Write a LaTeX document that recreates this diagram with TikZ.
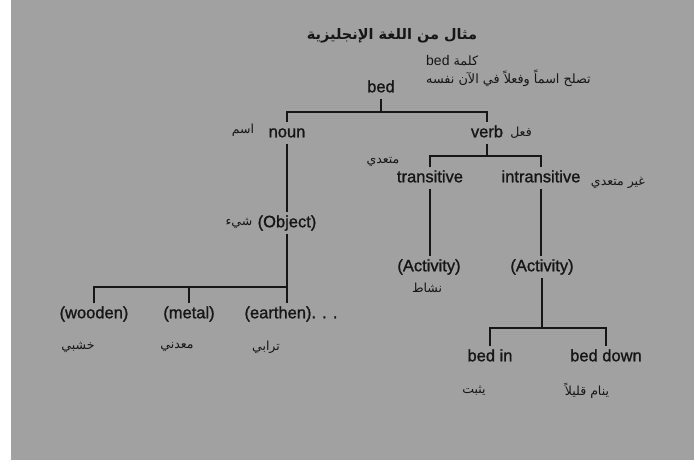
\documentclass[tikz,border=0pt]{standalone}
\usepackage{fontspec}
\setmainfont{Liberation Sans}
\newfontfamily\treefont[BoldFont={Liberation Sans},BoldFeatures={FakeBold=1.2}]{Liberation Sans}
\newfontfamily\arabicfont[Script=Arabic]{DejaVu Sans}
\TeXXeTstate=1
\usepackage{xcolor}
\definecolor{paper}{RGB}{161,161,161}
\definecolor{ink}{RGB}{22,22,22}
\usetikzlibrary{positioning}
\tikzset{
  wordnode/.style={text=ink, font=\treefont\bfseries\fontsize{16.5}{18}\selectfont,
    inner xsep=2pt, inner ysep=2.75pt, text height=12pt, text depth=3.5pt},
  glossnode/.style={text=ink, font=\arabicfont\fontsize{12.5}{14}\selectfont,
    inner sep=1pt},
  notenode/.style={text=ink, font=\arabicfont\fontsize{12.8}{18}\selectfont,
    inner sep=1pt, align=left},
  titlenode/.style={text=ink, font=\arabicfont\bfseries\fontsize{14.5}{18}\selectfont,
    inner sep=1pt},
  branch/.style={draw=ink, line width=1.6pt}
}

\begin{document}
\begin{tikzpicture}[x=1pt, y=-1pt]

  %% Page and background
  \useasboundingbox (0,0) rectangle (694,461);
  \fill[white] (0,0) rectangle (694,461);
  \fill[paper] (11,0) rectangle (694,460);

  %% Title and note
  \node[titlenode] (title) at (392,36) {\beginR مثال من اللغة الإنجليزية\endR};
  \node[notenode, anchor=west] (note) at (425,71)
    {\beginR كلمة \beginL{\treefont\fontsize{14}{18}\selectfont bed}\endL\endR\\
     \beginR تصلح اسماً وفعلاً في الآن نفسه\endR};

  %% Tree words
  \node[wordnode] (bed) at (381,88) {bed};
  \node[wordnode] (noun) at (287,133) {noun};
  \node[wordnode] (verb) at (487,133) {verb};
  \node[wordnode] (trans) at (430,178) {transitive};
  \node[wordnode] (intrans) at (541,178) {intransitive};
  \node[wordnode] (object) at (287,223) {(Object)};
  \node[wordnode] (actA) at (429,267) {(Activity)};
  \node[wordnode] (actB) at (542,267) {(Activity)};
  \node[wordnode] (wooden) at (94,314) {(wooden)};
  \node[wordnode] (metal) at (189,314) {(metal)};
  \node[wordnode] (earthen) at (291,314) {(earthen). . .};
  \node[wordnode] (bedin) at (490,357) {bed in};
  \node[wordnode] (beddown) at (606,357) {bed down};

  %% Arabic glosses
  \node[glossnode] (ism) at (243,130) {\beginR اسم\endR};
  \node[glossnode] (fiel) at (521,133) {\beginR فعل\endR};
  \node[glossnode] (mutaaddi) at (383,162) {\beginR متعدي\endR};
  \node[glossnode] (ghayr) at (618,183) {\beginR غير متعدي\endR};
  \node[glossnode] (shay) at (239,223) {\beginR شيء\endR};
  \node[glossnode] (nashat) at (427,288) {\beginR نشاط\endR};
  \node[glossnode] (khashabi) at (78,347) {\beginR خشبي\endR};
  \node[glossnode] (maadini) at (177,347) {\beginR معدني\endR};
  \node[glossnode] (turabi) at (266,347) {\beginR ترابي\endR};
  \node[glossnode] (yathbut) at (474,391) {\beginR يثبت\endR};
  \node[glossnode] (yanam) at (587,391) {\beginR ينام قليلاً\endR};

  %% Junctions
  \coordinate (j1) at (381,112);
  \coordinate (j2) at (487,156);
  \coordinate (j3) at (object.south |- 0,287);
  \coordinate (j4) at (actB.south |- 0,328);

  %% Branches
  \draw[branch] (bed.south) -- (j1);
  \draw[branch] (noun.north) |- (j1) -| (verb.north);
  \draw[branch] (verb.south) -- (j2);
  \draw[branch] (trans.north) |- (j2) -| (intrans.north);
  \draw[branch] (noun.south) -- (noun.south |- object.north);
  \draw[branch] (trans.south) -- (trans.south |- actA.north);
  \draw[branch] (intrans.south) -- (intrans.south |- actB.north);
  \draw[branch] (object.south) -- (object.south |- earthen.north);
  \draw[branch] (wooden.north) |- (j3);
  \draw[branch] (metal.north) -- (metal.north |- j3);
  \draw[branch] (actB.south) -- (j4);
  \draw[branch] (bedin.north) |- (j4) -| (beddown.north);

\end{tikzpicture}
\end{document}
